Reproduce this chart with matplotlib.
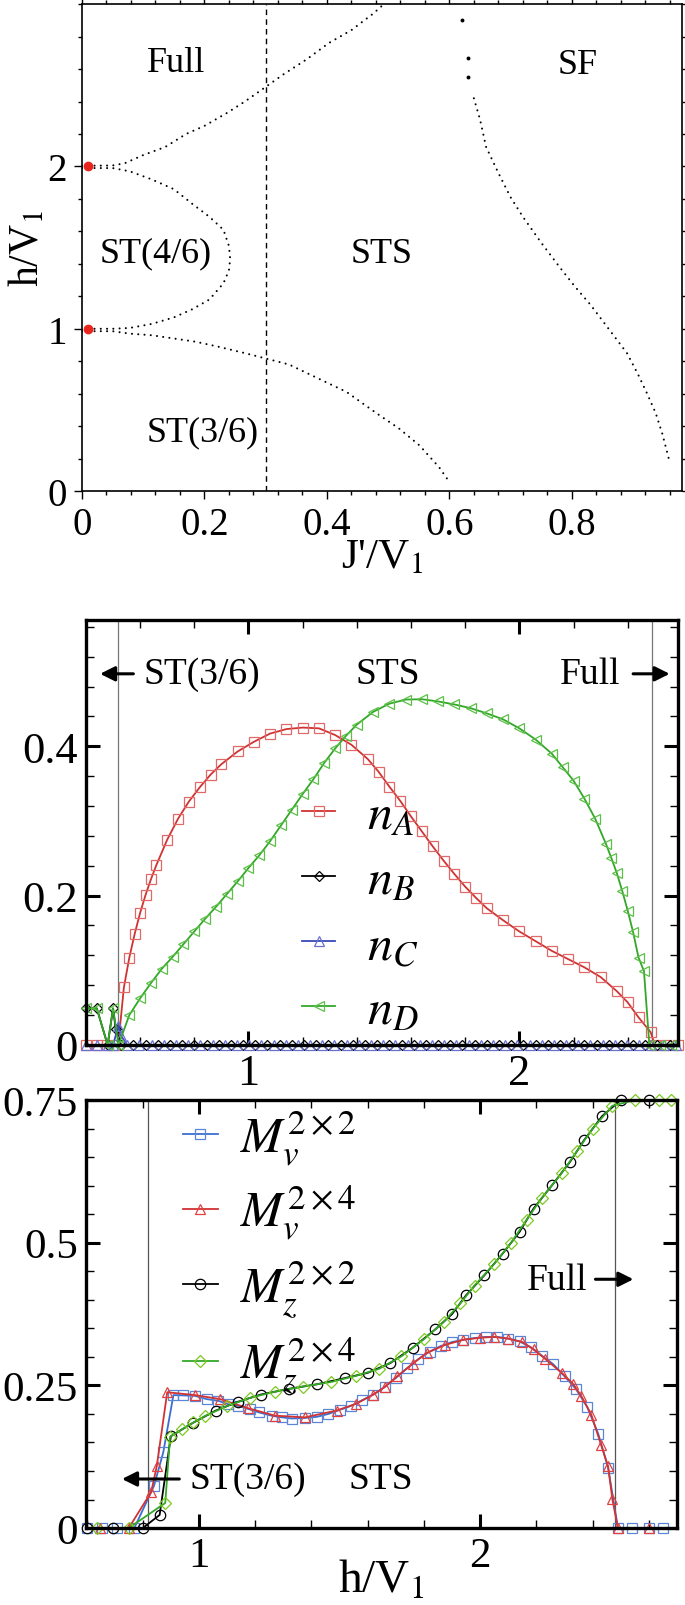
import numpy as np
import matplotlib
matplotlib.use('Agg')
import matplotlib.pyplot as plt
from matplotlib.ticker import MultipleLocator

plt.rcParams['font.family'] = ['Liberation Serif', 'DejaVu Serif']
plt.rcParams['mathtext.fontset'] = 'stix'

# ---------------- panel 1: phase diagram (J'/V1, h/V1) ----------------
full_J = [0.0, 0.03, 0.05, 0.07, 0.10, 0.136, 0.17, 0.20, 0.237, 0.266, 0.30, 0.33, 0.367, 0.403, 0.44, 0.475, 0.49]
full_h = [2.005, 2.005, 2.006, 2.02, 2.07, 2.12, 2.20, 2.25, 2.33, 2.40, 2.49, 2.57, 2.66, 2.76, 2.84, 2.94, 2.99]

lobe_J = [0.0, 0.05, 0.078, 0.114, 0.15, 0.18, 0.208, 0.231, 0.24, 0.242, 0.24, 0.231, 0.208, 0.18, 0.15, 0.114, 0.078, 0.05, 0.0]
lobe_h = [1.99, 1.99, 1.97, 1.92, 1.86, 1.77, 1.69, 1.61, 1.51, 1.43, 1.36, 1.28, 1.18, 1.12, 1.07, 1.03, 1.005, 1.0, 1.0]

low_J = [0.0, 0.05, 0.078, 0.114, 0.15, 0.186, 0.222, 0.266, 0.30, 0.338, 0.403, 0.432, 0.482, 0.518, 0.551, 0.583, 0.60]
low_h = [0.985, 0.985, 0.97, 0.96, 0.94, 0.92, 0.89, 0.85, 0.817, 0.78, 0.663, 0.611, 0.477, 0.385, 0.282, 0.148, 0.056]

sf_top_J = [0.62, 0.63, 0.63]
sf_top_h = [2.9, 2.67, 2.55]
sf_J = [0.64, 0.65, 0.66, 0.67, 0.68, 0.70, 0.72, 0.75, 0.78, 0.805, 0.83, 0.85, 0.87, 0.89, 0.908, 0.923, 0.937, 0.948, 0.959]
sf_h = [2.42, 2.29, 2.12, 2.04, 1.96, 1.81, 1.69, 1.53, 1.38, 1.26, 1.15, 1.05, 0.95, 0.85, 0.72, 0.60, 0.48, 0.35, 0.19]

red_J = [0.009, 0.009]
red_h = [2.0, 1.0]
J_dash = 0.30

# ---------------- panel 2: n_A .. n_D vs h/V1 ----------------
nA_h = [0.40, 0.44, 0.476, 0.519, 0.54, 0.56, 0.58, 0.60, 0.62, 0.64, 0.66, 0.70, 0.74, 0.78, 0.82, 0.86, 0.90,
        0.96, 1.02, 1.08, 1.14, 1.20, 1.26, 1.32, 1.38, 1.44, 1.48, 1.52, 1.56, 1.60, 1.64, 1.68, 1.72, 1.76,
        1.80, 1.84, 1.88, 1.94, 2.00, 2.06, 2.12, 2.18, 2.24, 2.30, 2.36, 2.40, 2.44, 2.485, 2.50, 2.54, 2.585]
nA = [0.0, 0.0, 0.0, 0.0, 0.077, 0.117, 0.149, 0.177, 0.201, 0.222, 0.241, 0.275, 0.303, 0.326, 0.345, 0.362, 0.376,
      0.393, 0.406, 0.417, 0.423, 0.425, 0.424, 0.415, 0.402, 0.383, 0.366, 0.346, 0.327, 0.306, 0.286, 0.266, 0.247, 0.229,
      0.212, 0.197, 0.183, 0.167, 0.152, 0.139, 0.126, 0.115, 0.104, 0.091, 0.072, 0.057, 0.037, 0.017, 0.0, 0.0, 0.0]

nB_h = [0.40, 0.44, 0.48, 0.50, 0.51, 0.53, 0.575, 0.62, 0.665, 0.71, 0.755, 0.80, 0.845, 0.89, 0.935, 0.98, 1.025,
        1.07, 1.115, 1.16, 1.205, 1.25, 1.295, 1.34, 1.385, 1.43, 1.475, 1.52, 1.565, 1.61, 1.655, 1.70, 1.745,
        1.79, 1.835, 1.88, 1.925, 1.97, 2.015, 2.06, 2.105, 2.15, 2.195, 2.24, 2.285, 2.33, 2.375, 2.42, 2.465,
        2.51, 2.555]
nB = [0.049, 0.049, 0.0, 0.049, 0.021, 0.0, 0.0, 0.0, 0.0, 0.0, 0.0, 0.0, 0.0, 0.0, 0.0, 0.0, 0.0,
      0.0, 0.0, 0.0, 0.0, 0.0, 0.0, 0.0, 0.0, 0.0, 0.0, 0.0, 0.0, 0.0, 0.0, 0.0, 0.0,
      0.0, 0.0, 0.0, 0.0, 0.0, 0.0, 0.0, 0.0, 0.0, 0.0, 0.0, 0.0, 0.0, 0.0, 0.0, 0.0,
      0.0, 0.0]

nC_h = [0.40, 0.44, 0.48, 0.50, 0.52, 0.53, 0.5525, 0.5975, 0.6425, 0.6875, 0.7325, 0.7775, 0.8225, 0.8675, 0.9125,
        0.9575, 1.0025, 1.0475, 1.0925, 1.1375, 1.1825, 1.2275, 1.2725, 1.3175, 1.3625, 1.4075, 1.4525, 1.4975,
        1.5425, 1.5875, 1.6325, 1.6775, 1.7225, 1.7675, 1.8125, 1.8575, 1.9025, 1.9475, 1.9925, 2.0375, 2.0825,
        2.1275, 2.1725, 2.2175, 2.2625, 2.3075, 2.3525, 2.3975, 2.4425, 2.4875, 2.5325, 2.5775]
nC = [0.0, 0.0, 0.0, 0.0, 0.026, 0.012, 0.0, 0.0, 0.0, 0.0, 0.0, 0.0, 0.0, 0.0, 0.0,
      0.0, 0.0, 0.0, 0.0, 0.0, 0.0, 0.0, 0.0, 0.0, 0.0, 0.0, 0.0, 0.0,
      0.0, 0.0, 0.0, 0.0, 0.0, 0.0, 0.0, 0.0, 0.0, 0.0, 0.0, 0.0, 0.0,
      0.0, 0.0, 0.0, 0.0, 0.0, 0.0, 0.0, 0.0, 0.0, 0.0, 0.0]

nD_h = [0.40, 0.44, 0.48, 0.50, 0.52, 0.56, 0.60, 0.64, 0.68, 0.72, 0.76, 0.80, 0.84, 0.88, 0.92, 0.96, 1.00, 1.04,
        1.08, 1.12, 1.16, 1.20, 1.24, 1.28, 1.32, 1.36, 1.40, 1.46, 1.52, 1.58, 1.64, 1.70, 1.76, 1.82, 1.88, 1.94,
        2.00, 2.06, 2.12, 2.16, 2.20, 2.24, 2.28, 2.32, 2.34, 2.36, 2.38, 2.40, 2.42, 2.44, 2.46, 2.48, 2.52, 2.56]
nD = [0.049, 0.049, 0.0, 0.049, 0.0, 0.04, 0.0625, 0.083, 0.102, 0.118, 0.135, 0.152, 0.169, 0.185, 0.202, 0.219, 0.237, 0.254,
      0.273, 0.294, 0.315, 0.336, 0.356, 0.378, 0.397, 0.414, 0.429, 0.446, 0.457, 0.4625, 0.463, 0.460, 0.456, 0.451, 0.444, 0.436,
      0.424, 0.409, 0.390, 0.372, 0.354, 0.330, 0.303, 0.269, 0.250, 0.230, 0.206, 0.180, 0.151, 0.117, 0.099, 0.0, 0.0, 0.0]

h_lines_n = [0.52, 2.49]

# ---------------- panel 3: M_v and M_z vs h/V1 ----------------
Mv22_h = [0.60, 0.655, 0.71, 0.77, 0.84, 0.873, 0.909, 0.944, 0.986, 1.027, 1.069, 1.104, 1.14, 1.18, 1.214, 1.26,
          1.296, 1.33, 1.377, 1.42, 1.46, 1.50, 1.54, 1.58, 1.62, 1.66, 1.70, 1.74, 1.78, 1.82, 1.86, 1.90, 1.94,
          1.98, 2.02, 2.06, 2.10, 2.14, 2.18, 2.22, 2.26, 2.30, 2.34, 2.38, 2.42, 2.455, 2.49, 2.54, 2.60, 2.65]
Mv22 = [0.0, 0.0, 0.0, 0.0, 0.074, 0.133, 0.233, 0.2325, 0.2317, 0.226, 0.223, 0.217, 0.214, 0.208, 0.2026, 0.1967,
        0.194, 0.192, 0.193, 0.195, 0.200, 0.207, 0.214, 0.224, 0.234, 0.247, 0.263, 0.280, 0.296, 0.309, 0.319, 0.326, 0.330,
        0.333, 0.335, 0.335, 0.332, 0.327, 0.317, 0.302, 0.287, 0.266, 0.244, 0.213, 0.165, 0.106, 0.0, 0.0, 0.0, 0.0]

Mv24_h = [0.648, 0.75, 0.83, 0.85, 0.887, 0.986, 1.075, 1.175, 1.27, 1.377, 1.49, 1.56, 1.62, 1.66, 1.705, 1.76, 1.81,
          1.876, 1.94, 2.0, 2.05, 2.10, 2.15, 2.19, 2.23, 2.29, 2.33, 2.36, 2.395, 2.43, 2.455, 2.47, 2.49, 2.60]
Mv24 = [0.0, 0.0, 0.063, 0.109, 0.238, 0.233, 0.226, 0.210, 0.197, 0.194, 0.206, 0.218, 0.234, 0.247, 0.266, 0.288, 0.307,
        0.321, 0.330, 0.3335, 0.335, 0.332, 0.326, 0.313, 0.297, 0.272, 0.253, 0.231, 0.199, 0.146, 0.108, 0.051, 0.0, 0.0]

Mz22_h = [0.60, 0.695, 0.80, 0.86, 0.90, 0.977, 1.06, 1.14, 1.22, 1.32, 1.42, 1.52, 1.60, 1.68, 1.76, 1.84, 1.90,
          1.95, 2.015, 2.08, 2.14, 2.19, 2.256, 2.32, 2.37, 2.434, 2.50, 2.60]
Mz22 = [0.0, 0.0, 0.0, 0.023, 0.161, 0.184, 0.206, 0.2215, 0.234, 0.244, 0.252, 0.263, 0.272, 0.289, 0.316, 0.348, 0.375,
        0.408, 0.443, 0.481, 0.519, 0.560, 0.601, 0.642, 0.680, 0.722, 0.75, 0.75]

Mz24_h = [0.636, 0.75, 0.88, 0.897, 0.94, 0.98, 1.02, 1.10, 1.18, 1.27, 1.37, 1.47, 1.56, 1.64, 1.72, 1.80, 1.87,
          1.93, 1.98, 2.05, 2.11, 2.165, 2.22, 2.29, 2.345, 2.40, 2.47, 2.55, 2.635, 2.68]
Mz24 = [0.0, 0.0, 0.044, 0.16, 0.173, 0.185, 0.196, 0.214, 0.228, 0.239, 0.248, 0.256, 0.267, 0.279, 0.301, 0.331, 0.361,
        0.394, 0.425, 0.463, 0.50, 0.54, 0.579, 0.622, 0.661, 0.70, 0.74, 0.75, 0.75, 0.75]

h_lines_M = [0.82, 2.48]

# colours
red = '#d13232'
green = '#33a828'
blue = '#3a48b8'
lblue = '#5b86d6'
ygreen = '#7cc820'

fig = plt.figure(figsize=(6.85, 16.06), dpi=100)

# ---------------- panel 1 ----------------
ax1 = fig.add_axes([0.1197, 0.6936, 0.876, 0.3032])
dot = dict(color='k', lw=1.5, ls=(0, (0.01, 3.0)), dash_capstyle='round')
ax1.plot(full_J, full_h, **dot)
ax1.plot(lobe_J, lobe_h, **dot)
ax1.plot(low_J, low_h, **dot)
ax1.plot(sf_J, sf_h, **dot)
ax1.plot(sf_top_J, sf_top_h, ls='none', marker='o', ms=1.8, color='k')
ax1.plot(red_J, red_h, ls='none', marker='o', ms=6, color='#e8251c', clip_on=False, zorder=5)
ax1.axvline(J_dash, color='k', lw=1.0, ls=(0, (4, 3)))

ax1.text(0.154, 2.64, 'Full', fontsize=26, ha='center', va='center')
ax1.text(0.81, 2.63, 'SF', fontsize=26, ha='center', va='center')
ax1.text(0.121, 1.465, 'ST(4/6)', fontsize=26, ha='center', va='center')
ax1.text(0.49, 1.465, 'STS', fontsize=26, ha='center', va='center')
ax1.text(0.197, 0.364, 'ST(3/6)', fontsize=26, ha='center', va='center')

ax1.set_xlim(0, 0.98)
ax1.set_ylim(0, 3)
ax1.set_xticks([0, 0.2, 0.4, 0.6, 0.8])
ax1.set_xticklabels(['0', '0.2', '0.4', '0.6', '0.8'])
ax1.set_yticks([0, 1, 2])
ax1.set_yticklabels(['0', '1', '2'])
ax1.xaxis.set_minor_locator(MultipleLocator(0.04))
ax1.yaxis.set_minor_locator(MultipleLocator(0.2))
ax1.tick_params(which='both', direction='out', top=True, right=True, labelsize=28, width=1.0)
ax1.tick_params(which='major', length=6, pad=5)
ax1.tick_params(which='minor', length=3)
for s in ax1.spines.values():
    s.set_linewidth(1.2)
ax1.set_xlabel("J'/V$_1$", fontsize=31)
ax1.set_ylabel("h/V$_1$", fontsize=30)
ax1.xaxis.set_label_coords(0.5, -0.095)
ax1.yaxis.set_label_coords(-0.058, 0.5)

# ---------------- panel 2 ----------------
ax2 = fig.add_axes([0.1255, 0.3487, 0.864, 0.2646])
mk = dict(mfc='none', mew=0.9, ms=6.5, lw=1.3, clip_on=False)
for hv in h_lines_n:
    ax2.axvline(hv, color='#777777', lw=0.9, zorder=1)
ax2.plot(nA_h, nA, color=red, marker='s', mec='#e06a6a', label='$n_A$', **mk)
ax2.plot(nB_h, nB, color='k', marker='D', ms=5.5, mec='k', mfc='none', mew=0.9, lw=1.3, clip_on=False, label='$n_B$')
ax2.plot(nC_h, nC, color=blue, marker='^', ms=6.5, mec='#6670d0', mfc='none', mew=0.9, lw=1.3, clip_on=False, label='$n_C$')
ax2.plot(nD_h, nD, color=green, marker='<', mec='#5cc048', label='$n_D$', **mk)

arrow = dict(arrowstyle='-|>', color='k', lw=2.2, mutation_scale=22, shrinkA=0, shrinkB=0)
ax2.annotate('', xy=(0.452, 0.497), xytext=(0.575, 0.497), arrowprops=arrow)
ax2.text(0.612, 0.497, 'ST(3/6)', fontsize=27, ha='left', va='center')
ax2.text(1.514, 0.497, 'STS', fontsize=27, ha='center', va='center')
ax2.text(2.15, 0.497, 'Full', fontsize=27, ha='left', va='center')
ax2.annotate('', xy=(2.555, 0.497), xytext=(2.42, 0.497), arrowprops=arrow)

ax2.set_xlim(0.4, 2.585)
ax2.set_ylim(0, 0.569)
ax2.set_xticks([1, 2])
ax2.set_xticklabels(['1', '2'])
ax2.set_yticks([0, 0.2, 0.4])
ax2.set_yticklabels(['0', '0.2', '0.4'])
ax2.xaxis.set_minor_locator(MultipleLocator(0.2))
ax2.yaxis.set_minor_locator(MultipleLocator(0.04))
ax2.tick_params(which='both', direction='in', top=True, right=True, labelsize=32)
ax2.tick_params(which='major', length=10, width=2.2, pad=6)
ax2.tick_params(which='minor', length=6, width=1.0)
for s in ax2.spines.values():
    s.set_linewidth(2.4)
ax2.legend(loc='upper left', bbox_to_anchor=(0.332, 0.64), frameon=False, fontsize=36,
           handlelength=0.65, handletextpad=0.65, labelspacing=0.37, borderaxespad=0)

# ---------------- panel 3 ----------------
ax3 = fig.add_axes([0.1255, 0.0479, 0.8628, 0.2665])
mk3 = dict(mfc='none', mew=0.9, ms=7.5, lw=1.3, clip_on=False)
for hv in h_lines_M:
    ax3.axvline(hv, color='#555555', lw=0.9, zorder=1)
ax3.plot(Mv22_h, Mv22, color='#3a6fd0', marker='s', mec=lblue, label=r'$M_v^{2\times2}$', **mk3)
ax3.plot(Mv24_h, Mv24, color=red, marker='^', mec='#e04040', label=r'$M_v^{2\times4}$', **mk3)
ax3.plot(Mz22_h, Mz22, color='k', marker='o', mec='k', label=r'$M_z^{2\times2}$', **mk3)
ax3.plot(Mz24_h, Mz24, color=green, marker='D', mec=ygreen, label=r'$M_z^{2\times4}$',
         mfc='none', mew=0.9, ms=6.5, lw=1.3, clip_on=False)

ax3.annotate('', xy=(0.726, 0.086), xytext=(0.93, 0.086), arrowprops=arrow)
ax3.text(0.965, 0.086, 'ST(3/6)', fontsize=27, ha='left', va='center')
ax3.text(1.645, 0.086, 'STS', fontsize=27, ha='center', va='center')
ax3.text(2.165, 0.436, 'Full', fontsize=27, ha='left', va='center')
ax3.annotate('', xy=(2.545, 0.436), xytext=(2.41, 0.436), arrowprops=arrow)

ax3.set_xlim(0.598, 2.70)
ax3.set_ylim(0, 0.75)
ax3.set_xticks([1, 2])
ax3.set_xticklabels(['1', '2'])
ax3.set_yticks([0, 0.25, 0.5, 0.75])
ax3.set_yticklabels(['0', '0.25', '0.5', '0.75'])
ax3.xaxis.set_minor_locator(MultipleLocator(0.2))
ax3.yaxis.set_minor_locator(MultipleLocator(0.05))
ax3.tick_params(which='both', direction='in', top=True, right=True, labelsize=31)
ax3.tick_params(which='major', length=10, width=2.2, pad=6)
ax3.tick_params(which='minor', length=6, width=1.0)
for s in ax3.spines.values():
    s.set_linewidth(2.4)
ax3.set_xlabel("h/V$_1$", fontsize=34)
ax3.xaxis.set_label_coords(0.5, -0.07)
ax3.legend(loc='upper left', bbox_to_anchor=(0.13, 1.028), frameon=False, fontsize=36,
           handlelength=0.7, handletextpad=0.45, labelspacing=0.32, borderaxespad=0)

plt.savefig('out.png', dpi=100)
